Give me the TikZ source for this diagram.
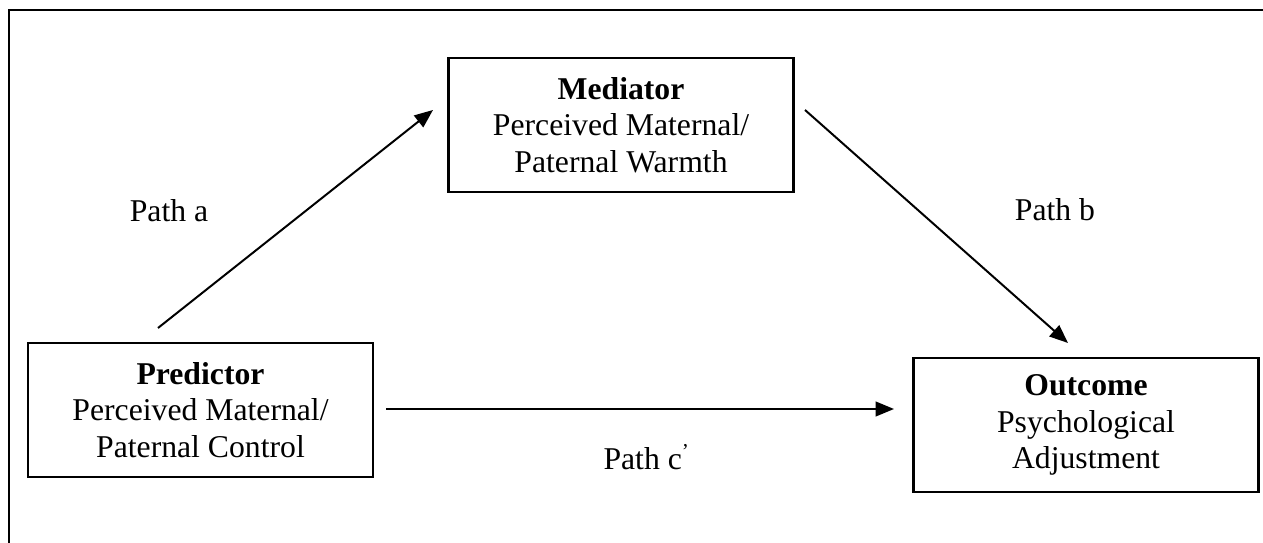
\documentclass[tikz,border=0pt]{standalone}
\usepackage{fontspec}
\setmainfont{Liberation Serif}
\usetikzlibrary{arrows.meta}

\tikzset{
  varbox/.style={draw, line width=0.9pt, minimum width=130.6pt, minimum height=50.7pt,
    inner sep=0pt, align=center, font=\fontsize{12}{13.8}\selectfont},
  lbl/.style={anchor=base, inner sep=0pt, font=\fontsize{12}{13.8}\selectfont},
  arr/.style={line width=0.75pt, -{Triangle[length=7pt,width=5.6pt]}}
}

\begin{document}
\begin{tikzpicture}[x=0.3785pt,y=-0.3785pt]
\useasboundingbox (0,0) rectangle (1263,543);
\draw[line width=1pt] (1263,10) -- (9,10) -- (9,543);

\node[varbox] (P) at (200.5,410) {\textbf{Predictor}\\Perceived Maternal/\\Paternal Control};
\node[varbox] (M) at (621,125) {\textbf{Mediator}\\Perceived Maternal/\\Paternal Warmth};
\node[varbox] (O) at (1086,425) {\textbf{Outcome}\\Psychological\\Adjustment};

\coordinate (a0) at (158,328);
\coordinate (a1) at (433,110);
\coordinate (b0) at (805,110);
\coordinate (b1) at (1068,343);
\coordinate (c0) at (386,409);
\coordinate (c1) at (894,409);

\draw[arr] (a0) -- (a1);
\draw[arr] (b0) -- (b1);
\draw[arr] (c0) -- (c1);

\node[lbl] (pa) at (169,222) {Path a};
\node[lbl] (pb) at (1055,221) {Path b};
\node[lbl, anchor=base west] (pc) at (603,470) {Path c\textsuperscript{’}};
\end{tikzpicture}
\end{document}
